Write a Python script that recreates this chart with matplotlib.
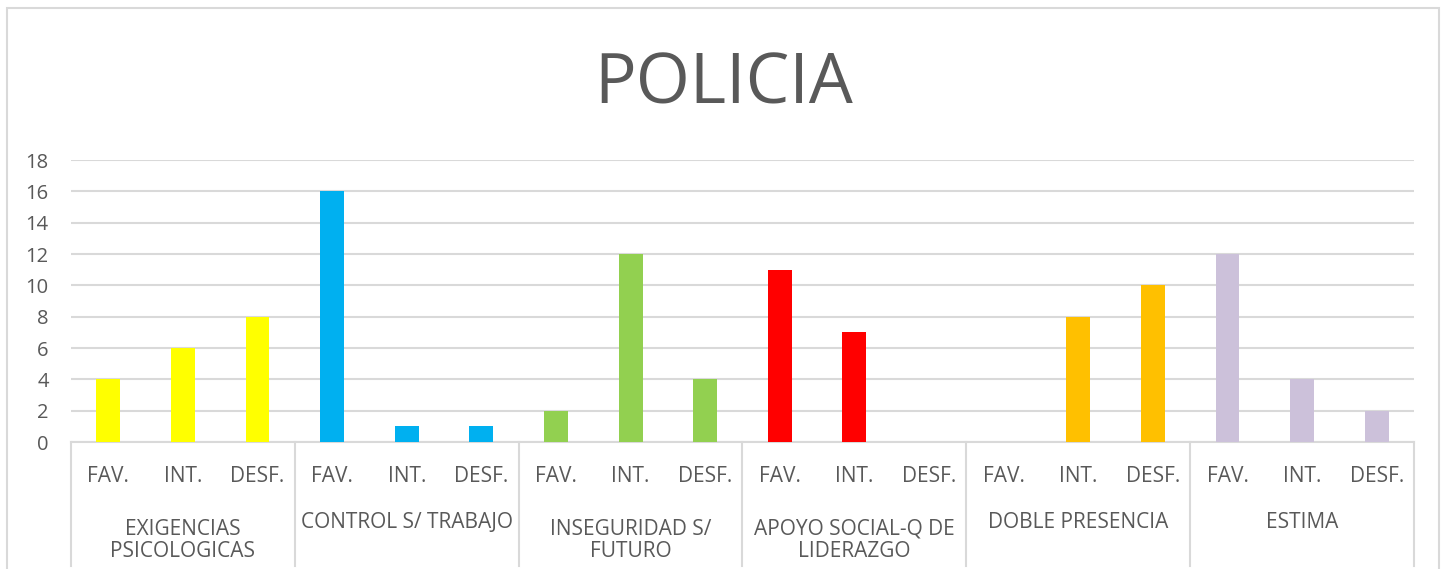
import matplotlib
matplotlib.use("Agg")
import matplotlib.pyplot as plt
from matplotlib.lines import Line2D
from matplotlib.patches import Rectangle

groups = ["EXIGENCIAS\nPSICOLOGICAS", "CONTROL S/ TRABAJO", "INSEGURIDAD S/\nFUTURO",
          "APOYO SOCIAL-Q DE\nLIDERAZGO", "DOBLE PRESENCIA", "ESTIMA"]
subcats = ["FAV.", "INT.", "DESF."]
values = [
    [4, 6, 8],
    [16, 1, 1],
    [2, 12, 4],
    [11, 7, 0],
    [0, 8, 10],
    [12, 4, 2],
]
colors = ["#FFFF00", "#00B0F0", "#92D050", "#FF0000", "#FFC000", "#CCC1DA"]
yticks = [0, 2, 4, 6, 8, 10, 12, 14, 16, 18]

W, H = 1447, 569
fig = plt.figure(figsize=(W / 100, H / 100), dpi=100)
plt.rcParams['font.family'] = ['Open Sans', 'DejaVu Sans']
txt = "#595959"
grid = "#D9D9D9"

# outer chart border
fig.patches.append(Rectangle((7 / W, -0.1), (1439 - 7) / W, (H - 8) / H + 0.1,
                             transform=fig.transFigure, fill=False,
                             edgecolor=grid, linewidth=1.5))

left, right, top, bottom = 71, 1414, 160, 442
ax = fig.add_axes([left / W, 1 - bottom / H, (right - left) / W, (bottom - top) / H])

n = len(subcats)
for gi, (g, vals, c) in enumerate(zip(groups, values, colors)):
    xs = [gi * n + j + 0.5 for j in range(n)]
    ax.bar(xs, vals, width=0.32, color=c, zorder=3)

ax.set_xlim(0, n * len(groups))
ax.set_ylim(0, 18)
ax.set_yticks(yticks)
ax.set_yticklabels([str(t) for t in yticks], fontsize=14.5, color=txt)
ax.tick_params(axis='y', length=0, pad=16)
ax.set_xticks([])
for s in ["top", "right", "left"]:
    ax.spines[s].set_visible(False)
ax.spines["bottom"].set_color(grid)
ax.spines["bottom"].set_linewidth(1.5)
ax.yaxis.grid(True, color=grid, linewidth=1.5, zorder=0)
ax.set_axisbelow(True)

px = (bottom - top)
def ay(ypix):
    return (bottom - ypix) / px

xt = ax.get_xaxis_transform()

# group separators
for k in range(len(groups) + 1):
    xk = k * n
    ax.add_line(Line2D([xk, xk], [0, ay(566)], transform=xt,
                       color=grid, linewidth=1.5, clip_on=False))

# sub-category labels and group labels
for gi in range(len(groups)):
    for j, sc in enumerate(subcats):
        ax.text(gi * n + j + 0.5, ay(482), sc, transform=xt,
                ha='center', va='baseline', fontsize=15, color=txt)
    lines = groups[gi].split("\n")
    if len(lines) == 1:
        ax.text(gi * n + 1.5, ay(528), lines[0], transform=xt,
                ha='center', va='baseline', fontsize=15, color=txt)
    else:
        for t, yb in zip(lines, [535, 557]):
            ax.text(gi * n + 1.5, ay(yb), t, transform=xt,
                    ha='center', va='baseline', fontsize=15, color=txt)

fig.text(0.5, 1 - 104 / H, "POLICIA", ha='center', va='baseline', fontsize=50, color=txt)

fig.savefig("out.png", dpi=100)
